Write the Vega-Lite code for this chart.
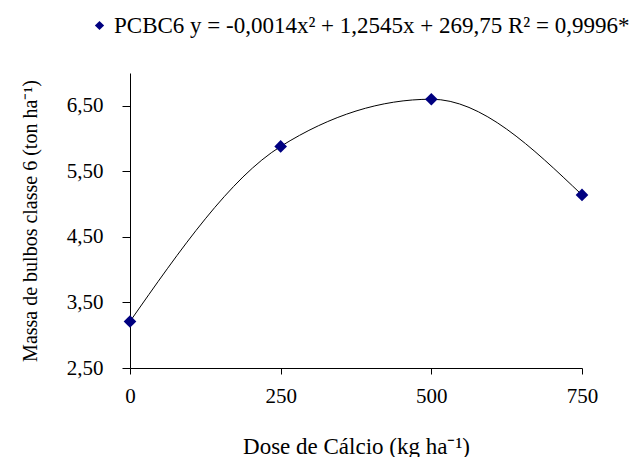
{
  "$schema": "https://vega.github.io/schema/vega-lite/v6.json",
  "width": 452,
  "height": 295,
  "autosize": {"type": "none"},
  "padding": {"left": 130, "top": 73, "right": 61, "bottom": 89},
  "background": "white",
  "config": {
    "view": {"stroke": null},
    "font": "Liberation Serif",
    "axis": {"grid": false, "domainColor": "black", "tickColor": "black", "labelColor": "black", "titleColor": "black", "labelFont": "Liberation Serif", "titleFont": "Liberation Serif", "titleFontWeight": "normal", "domainWidth": 1, "tickWidth": 1}
  },
  "data": {
    "values": [
      {"dose": 0, "massa": 3.21, "serie": "PCBC6 y = -0,0014x² + 1,2545x + 269,75 R² = 0,9996*"},
      {"dose": 250, "massa": 5.88, "serie": "PCBC6 y = -0,0014x² + 1,2545x + 269,75 R² = 0,9996*"},
      {"dose": 500, "massa": 6.60, "serie": "PCBC6 y = -0,0014x² + 1,2545x + 269,75 R² = 0,9996*"},
      {"dose": 750, "massa": 5.14, "serie": "PCBC6 y = -0,0014x² + 1,2545x + 269,75 R² = 0,9996*"}
    ]
  },
  "encoding": {
    "x": {
      "field": "dose", "type": "quantitative",
      "scale": {"domain": [0, 750], "nice": false, "zero": false},
      "axis": {
        "values": [0, 250, 500, 750],
        "title": "Dose de Cálcio (kg ha⁻¹)",
        "titleFontSize": 23,
        "titleX": 226, "titleY": 85, "titleBaseline": "alphabetic",
        "labelFontSize": 21, "tickSize": 6, "labelPadding": 11,
        "labelBaseline": "top", "labelFlush": false
      }
    },
    "y": {
      "field": "massa", "type": "quantitative",
      "scale": {"domain": [2.5, 7.0], "nice": false, "zero": false},
      "axis": {
        "values": [2.5, 3.5, 4.5, 5.5, 6.5],
        "labelExpr": "replace(format(datum.value, '.2f'), '.', ',')",
        "title": "Massa de bulbos classe 6 (ton ha⁻¹)",
        "titleFontSize": 20,
        "titleX": -94, "titleY": 147.5, "titleBaseline": "alphabetic", "titleAngle": -90,
        "labelFontSize": 21, "tickSize": 8, "labelPadding": 19, "labelFlush": false
      }
    }
  },
  "layer": [
    {
      "mark": {"type": "line", "interpolate": "monotone", "color": "black", "strokeWidth": 1}
    },
    {
      "mark": {"type": "point", "shape": "diamond", "filled": true, "size": 160, "opacity": 1},
      "encoding": {
        "color": {
          "field": "serie", "type": "nominal",
          "scale": {"range": ["#000080"]},
          "legend": {
            "title": null, "orient": "none", "legendX": -42, "legendY": -59,
            "symbolType": "diamond", "symbolSize": 85, "symbolFillColor": "#000080", "symbolStrokeWidth": 0,
            "labelFont": "Liberation Serif", "labelFontSize": 23, "labelColor": "black",
            "labelLimit": 1000, "labelOffset": 3
          }
        }
      }
    }
  ]
}
